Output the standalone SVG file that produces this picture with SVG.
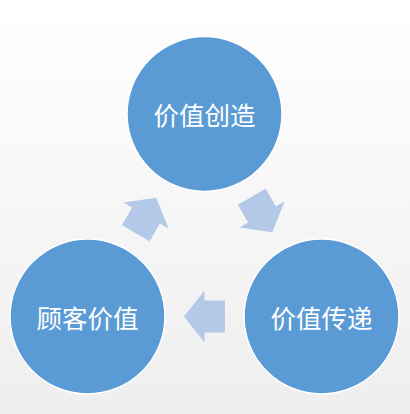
<svg xmlns="http://www.w3.org/2000/svg" width="410" height="414" viewBox="0 0 410 414">
<defs>
<linearGradient id="bg" x1="0" y1="0" x2="0" y2="1">
<stop offset="0" stop-color="#ffffff"/>
<stop offset="1" stop-color="#eeeeee"/>
</linearGradient>
<polygon id="arr" points="-20.5,-16 0,-16 0,-26 20.5,0 0,26 0,16 -20.5,16"/>
</defs>
<style>
.node circle{fill:#5b9bd5;stroke:#ffffff;stroke-width:1.5}
.node text{fill:#ffffff;font-family:"Noto Sans CJK SC","Noto Sans",sans-serif;font-size:25.5px;text-anchor:middle;dominant-baseline:central}
.conn use{fill:#b4c9e8}
</style>
<rect width="410" height="414" fill="url(#bg)"/>
<g id="connectors" class="conn">
<use href="#arr" transform="translate(262,214.5) rotate(60)"/>
<use href="#arr" transform="translate(204.5,316.5) rotate(180)"/>
<use href="#arr" transform="translate(146,215.5) rotate(-60)"/>
</g>
<g id="node-create" class="node">
<circle cx="204.5" cy="114" r="77.5"/>
<text x="204.5" y="113">价值创造</text>
</g>
<g id="node-deliver" class="node">
<circle cx="321.5" cy="316.5" r="77.5"/>
<text x="321.5" y="316">价值传递</text>
</g>
<g id="node-customer" class="node">
<circle cx="87.5" cy="316.5" r="77.5"/>
<text x="87.5" y="316">顾客价值</text>
</g>
</svg>
